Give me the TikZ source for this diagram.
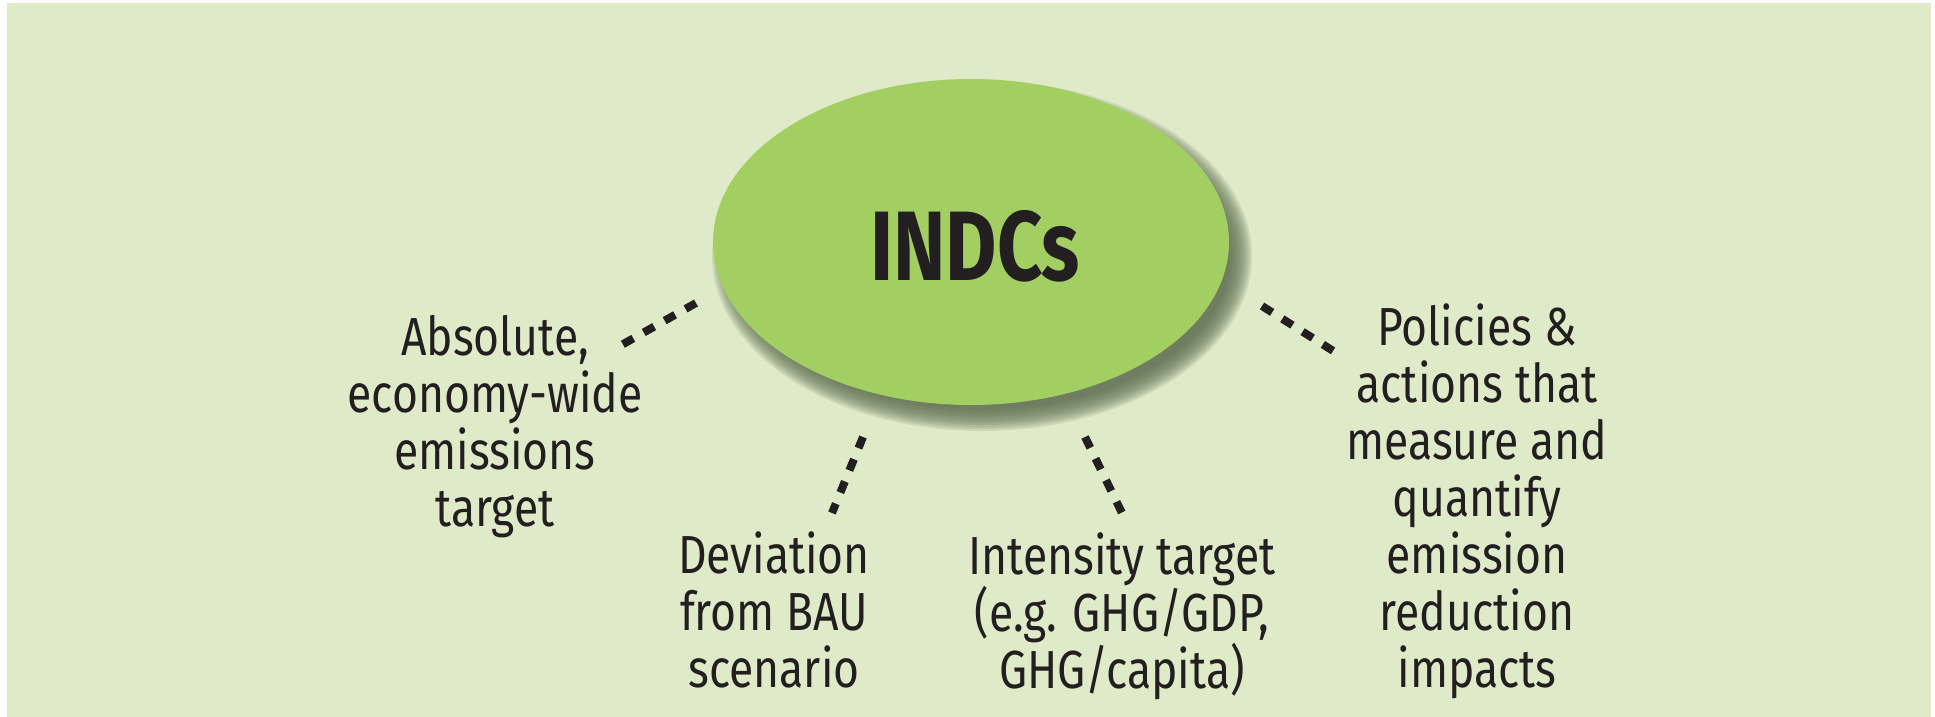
\documentclass[tikz,border=0pt]{standalone}
\usepackage{fontspec}
\usetikzlibrary{shapes.geometric}
\setmainfont{Fira Sans}[FakeStretch=0.83]
\newfontfamily\titlefont{Fira Sans}[FakeStretch=0.8,UprightFont=*-Bold]
\definecolor{bgc}{RGB}{223,235,200}
\definecolor{ellc}{RGB}{163,206,98}
\definecolor{shc}{RGB}{95,110,82}
\definecolor{txc}{RGB}{35,31,32}
\begin{document}
\begin{tikzpicture}[x=1pt,y=-1pt,
  lbl/.style={align=center,anchor=base,text=txc,inner sep=0pt,font=\fontsize{53.6}{57}\selectfont},
  dots/.style={draw=txc,line width=8pt,dash pattern=on 12pt off 12pt}]
\useasboundingbox (0,0) rectangle (1935,717);
\fill[white] (0,0) rectangle (1935,717);
\fill[bgc] (7,3) rectangle (1931,717);
% shadow
\foreach \i in {0,...,11}{
  \fill[shc,opacity=0.15] (982,256) ellipse ({270-2*\i} and {175-2*\i});
}
\node[ellipse,fill=ellc,minimum width=516pt,minimum height=326pt,inner sep=0pt] (ind) at (971,242) {};
\node[anchor=base,text=txc,inner sep=0pt,font=\titlefont\fontsize{98.7}{100}\selectfont] (indt) at (975,280) {INDCs};
\node[lbl] (abs) at (495,526) {Absolute,\\economy-wide\\emissions\\target};
\node[lbl] (dev) at (774,687) {Deviation\\from BAU\\scenario};
\node[lbl] (int) at (1122,688) {Intensity target\\(e.g. GHG/GDP,\\GHG/capita)};
\node[lbl] (pol) at (1477,687) {Policies \&\\actions that\\measure and\\quantify\\emission\\reduction\\impacts};
\coordinate (a1) at (696,303); \coordinate (a2) at (618,347);
\coordinate (d1) at (863,437); \coordinate (d2) at (832,513);
\coordinate (i1) at (1085,437); \coordinate (i2) at (1122,513);
\coordinate (p1) at (1262,306); \coordinate (p2) at (1338,354);
\draw[dots] (a1) -- (a2);
\draw[dots] (d1) -- (d2);
\draw[dots] (i1) -- (i2);
\draw[dots] (p1) -- (p2);
\end{tikzpicture}
\end{document}
